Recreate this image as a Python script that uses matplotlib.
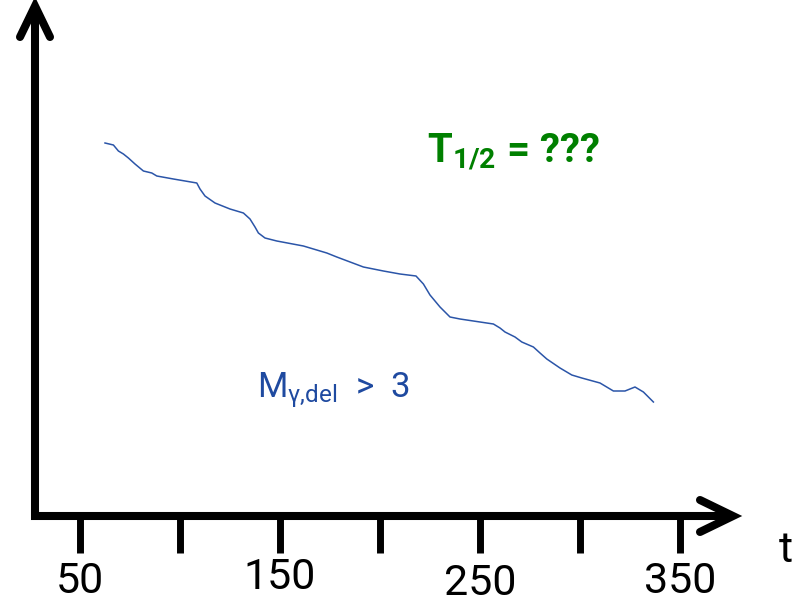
import matplotlib
matplotlib.use("Agg")
import matplotlib.pyplot as plt

# decay curve (t, signal)
t_vals = [62.5, 66.7, 69.2, 71.7, 74.2, 77.5, 81.7, 85.9, 88.4, 96.7,
          108.4, 110.0, 112.5, 117.5, 125.0, 131.7, 135.0, 137.5, 139.2, 142.5,
          148.4, 161.7, 173.4, 178.4, 191.7, 201.7, 210.0, 218.0, 221.7, 225.0,
          230.0, 235.0, 240.0, 256.7, 260.0, 262.5, 267.5, 270.9, 276.7, 280.0,
          283.4, 290.0, 295.9, 300.9, 310.0, 316.7, 322.5, 327.5, 331.7, 336.7]
signal = [3.73, 3.71, 3.65, 3.62, 3.58, 3.52, 3.45, 3.43, 3.40, 3.37,
          3.33, 3.27, 3.20, 3.13, 3.07, 3.03, 2.97, 2.89, 2.83, 2.78,
          2.75, 2.70, 2.63, 2.59, 2.49, 2.45, 2.42, 2.40, 2.32, 2.21,
          2.09, 1.99, 1.97, 1.92, 1.88, 1.84, 1.79, 1.74, 1.69, 1.63,
          1.57, 1.48, 1.41, 1.38, 1.33, 1.25, 1.25, 1.29, 1.24, 1.14]

tick_pos = [50, 100, 150, 200, 250, 300, 350]
label_pos = [50, 150, 250, 350]
label_dy = [0.0, 0.04, -0.02, 0.0]   # slight stagger seen in the slide

BLACK = "black"
LINE_BLUE = "#2b55a8"
TEXT_BLUE = "#1f4aa0"
GREEN = "#008000"

plt.rcParams["font.family"] = ["Roboto", "DejaVu Sans"]
plt.rcParams["mathtext.fontset"] = "custom"
plt.rcParams["mathtext.rm"] = "Roboto"
plt.rcParams["mathtext.it"] = "Roboto:italic"
plt.rcParams["mathtext.bf"] = "Roboto:bold"

fig = plt.figure(figsize=(8.02, 6.04), dpi=100)
ax = fig.add_axes([0, 0, 1, 1])
ax.set_xlim(10, 411)
ax.set_ylim(-0.88, 5.16)
ax.axis("off")

# axis frame (L shape) with open arrow heads
t0, t_end, y_top = 27.5, 376.5, 5.10
ax.plot([t0, t0, t_end], [y_top, 0, 0], color=BLACK, lw=5.8,
        solid_joinstyle="miter", solid_capstyle="butt", clip_on=False)
ax.plot([t_end - 16.5, t_end, t_end - 16.5], [0.16, 0, -0.16], color=BLACK,
        lw=5.8, solid_joinstyle="miter", solid_capstyle="round")
ax.plot([t0 - 7.5, t0, t0 + 7.5], [y_top - 0.31, y_top, y_top - 0.31],
        color=BLACK, lw=5.8, solid_joinstyle="miter", solid_capstyle="round")

for tp in tick_pos:
    ax.plot([tp, tp], [0.04, -0.37], color=BLACK, lw=5.0, solid_capstyle="butt")

for lp, dy in zip(label_pos, label_dy):
    ax.text(lp, -0.655 + dy, str(lp), ha="center", va="center",
            fontsize=31, color=BLACK)
ax.text(403, -0.35, "t", ha="center", va="center", fontsize=31, color=BLACK)

ax.plot(t_vals, signal, color=LINE_BLUE, lw=1.1)

ax.text(223.5, 3.54, r"T$_{\mathbf{1/2}}$ = ???", ha="left", va="baseline",
        fontsize=29, fontweight="bold", color=GREEN)
ax.text(138.5, 1.19, r"M$_{\mathrm{γ{,}del}}$  >  3", ha="left", va="baseline",
        fontsize=25, color=TEXT_BLUE)

fig.savefig("out.png", dpi=100)
